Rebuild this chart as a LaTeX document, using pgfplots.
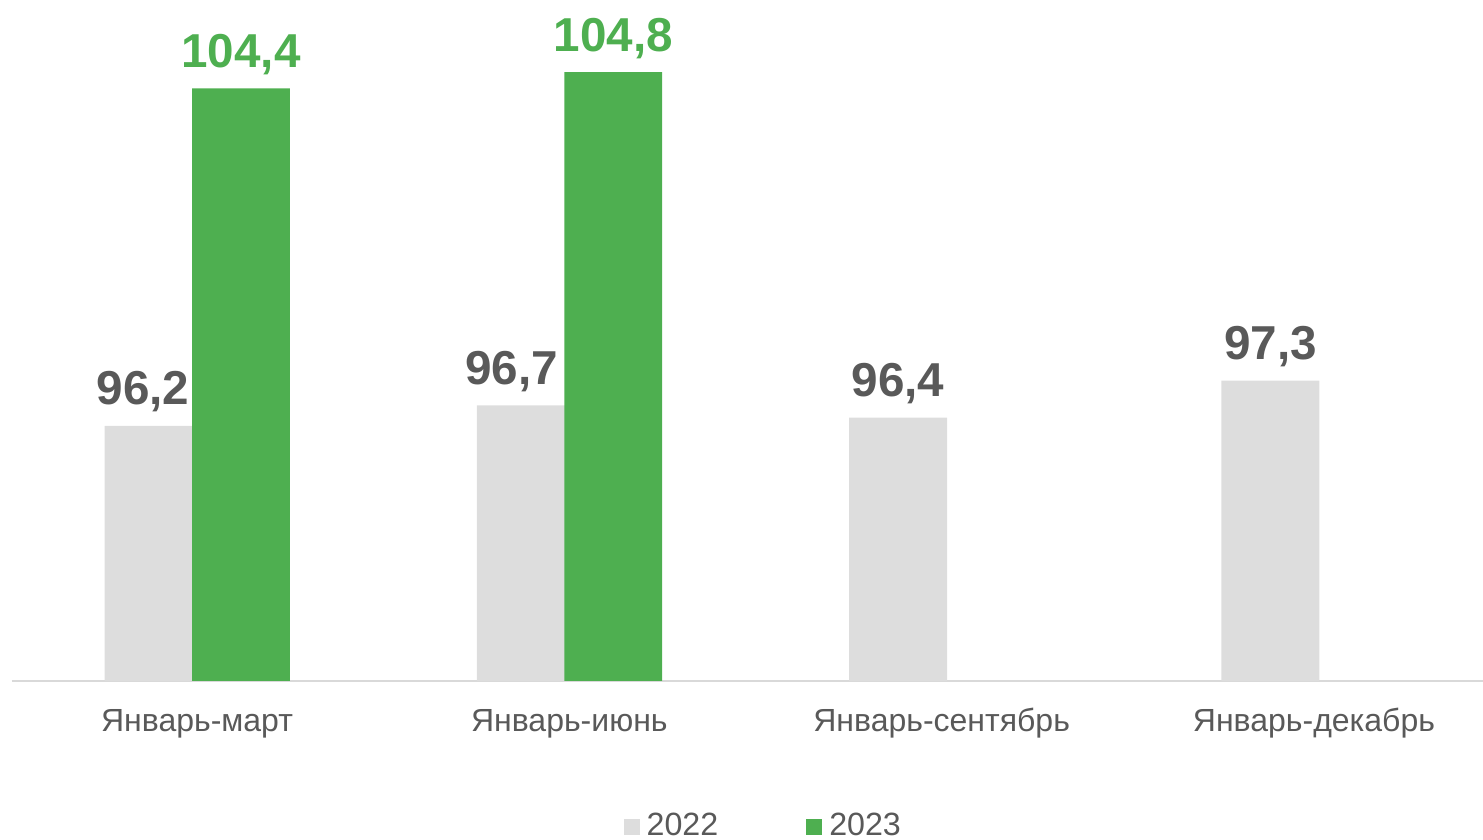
\documentclass[border=0pt]{standalone}
\usepackage{pgfplots}
\usepackage{pgfplotstable}
\pgfplotsset{compat=1.18}
\usepackage{fontspec}
\setmainfont{Liberation Sans}
\definecolor{gbar}{HTML}{DDDDDD}
\definecolor{grn}{HTML}{4EAF50}
\definecolor{txt}{HTML}{595959}
\definecolor{axl}{HTML}{D9D9D9}

\pgfplotstableread{
x y dx
0 96.2 -5.3
1 96.7 -7
2 96.4 0
3 97.3 0
}\prev
\pgfplotstableread{
x y dx
0 104.4 0
1 104.8 0
}\cur

\begin{document}
\begin{tikzpicture}
\begin{axis}[
    scale only axis,
    width=735.5pt, height=340.5pt,
    ymin=90, ymax=106.55,
    xmin=-0.497, xmax=3.454,
    axis x line=bottom,
    axis y line=none,
    x axis line style={-, draw=axl, line width=0.8pt},
    xtick={0,1,2,3},
    xticklabels={Январь-март, Январь-июнь, Январь-сентябрь, Январь-декабрь},
    major tick length=0pt,
    xticklabel style={anchor=base, yshift=-25.3pt, text=txt, font=\fontsize{16}{19}\selectfont},
    ybar, bar width=0.263,
    nodes near coords={\pgfmathprintnumber[fixed, precision=1, fixed zerofill, use comma, assume math mode=true]{\pgfplotspointmeta}},
    visualization depends on={\thisrow{dx}\as\dx},
    nodes near coords style={anchor=base, yshift=10.5pt, xshift=\dx*1pt, font=\fontsize{23.8}{28}\selectfont\bfseries},
    legend style={draw=none, at={(0.5114,-0.213)}, anchor=center, legend columns=-1,
        font=\fontsize{16.1}{19}\selectfont, text=txt,
        /tikz/every odd column/.style={column sep=1.5pt},
        /tikz/every even column/.style={column sep=42pt}},
    legend image code/.code={\fill[#1] (0pt,-4.5pt) rectangle (8pt,3.5pt);},
]
\addplot[fill=gbar, draw=none, bar shift=-0.117, every node near coord/.append style={text=txt}] table[x=x, y=y] {\prev};
\addplot[fill=grn, draw=none, bar shift=0.118, every node near coord/.append style={text=grn}] table[x=x, y=y] {\cur};
\legend{2022, 2023}
\end{axis}
\pgfresetboundingbox
\useasboundingbox (-6pt,-79.5pt) rectangle (735.5pt,340.5pt);
\end{tikzpicture}
\end{document}
